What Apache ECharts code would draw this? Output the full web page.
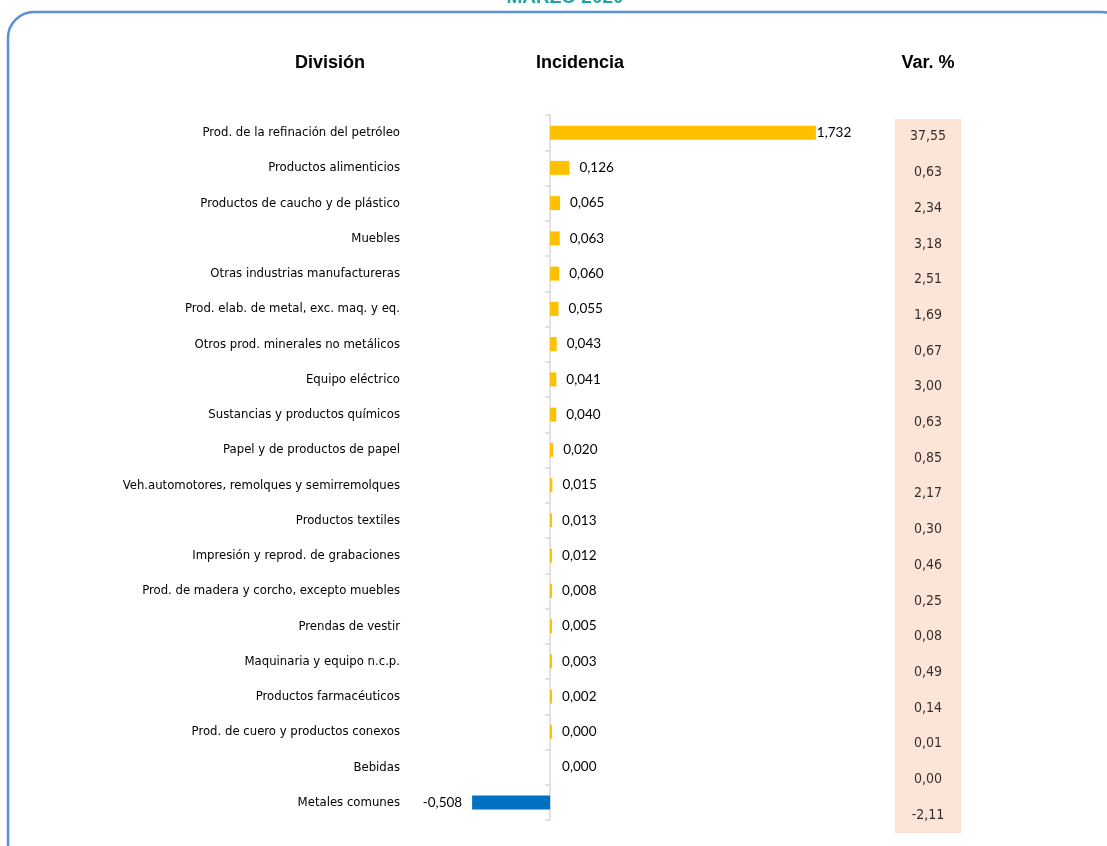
<!DOCTYPE html>
<html>
<head>
<meta charset="utf-8">
<script src="https://cdn.jsdelivr.net/npm/echarts@6/dist/echarts.min.js"></script>
<style>
  html, body { margin: 0; padding: 0; background: #fff; }
  #chart { width: 1107px; height: 846px; }
</style>
</head>
<body>
<div id="chart"></div>
<script>
// divisiones, de arriba hacia abajo
var divisiones = [
    'Prod. de la refinación del petróleo',
    'Productos alimenticios',
    'Productos de caucho y de plástico',
    'Muebles',
    'Otras industrias manufactureras',
    'Prod. elab. de metal, exc. maq. y eq.',
    'Otros prod. minerales no metálicos',
    'Equipo eléctrico',
    'Sustancias y productos químicos',
    'Papel y de productos de papel',
    'Veh.automotores, remolques y semirremolques',
    'Productos textiles',
    'Impresión y reprod. de grabaciones',
    'Prod. de madera y corcho, excepto muebles',
    'Prendas de vestir',
    'Maquinaria y equipo n.c.p.',
    'Productos farmacéuticos',
    'Prod. de cuero y productos conexos',
    'Bebidas',
    'Metales comunes'
];
var incidencia = [1.732, 0.126, 0.065, 0.063, 0.060, 0.055, 0.043, 0.041, 0.040, 0.020,
                  0.015, 0.013, 0.012, 0.008, 0.005, 0.003, 0.002, 0.0004, 0.000, -0.508];
var varPct = [37.55, 0.63, 2.34, 3.18, 2.51, 1.69, 0.67, 3.00, 0.63, 0.85,
              2.17, 0.30, 0.46, 0.25, 0.08, 0.49, 0.14, 0.01, 0.00, -2.11];

function coma(v, d) {
    return v.toFixed(d).replace('.', ',');
}

var myChart = echarts.init(document.getElementById('chart'));

var narrow = "'Liberation Sans Narrow', 'Arial Narrow', 'DejaVu Sans Condensed', sans-serif";
var header = "'Liberation Sans', Arial, sans-serif";

var option = {
    animation: false,
    backgroundColor: '#fff',
    graphic: [
        {
            type: 'rect',
            shape: { x: 8, y: 12, width: 1120, height: 870, r: 26 },
            style: { fill: 'none', stroke: '#5B8FD9', lineWidth: 2.5 }
        },
        {
            type: 'text', x: 565, y: -2,
            style: { text: 'MARZO 2020', fill: '#1FA3A3', font: 'bold 19px ' + header,
                     textAlign: 'center', textVerticalAlign: 'middle' }
        },
        {
            type: 'text', x: 330, y: 63,
            style: { text: 'División', fill: '#000', font: 'bold 18px ' + header,
                     textAlign: 'center', textVerticalAlign: 'middle' }
        },
        {
            type: 'text', x: 580, y: 63,
            style: { text: 'Incidencia', fill: '#000', font: 'bold 18px ' + header,
                     textAlign: 'center', textVerticalAlign: 'middle' }
        },
        {
            type: 'text', x: 928, y: 63,
            style: { text: 'Var. %', fill: '#000', font: 'bold 18px ' + header,
                     textAlign: 'center', textVerticalAlign: 'middle' }
        }
    ],
    grid: [
        { left: 458, width: 399, top: 115, height: 705 },
        { left: 895, width: 66, top: 119, height: 714, show: true,
          backgroundColor: '#FCE4D6', borderWidth: 0 }
    ],
    xAxis: [
        { type: 'value', gridIndex: 0, min: -0.6, max: 2.0, show: false },
        { type: 'value', gridIndex: 1, min: -1, max: 1, show: false }
    ],
    yAxis: [
        {
            type: 'category', gridIndex: 0, inverse: true, data: divisiones,
            axisLine: { show: true, onZero: true, lineStyle: { color: '#D9D9D9', width: 1.5 } },
            axisTick: { show: true, length: 5, lineStyle: { color: '#D9D9D9', width: 1.5 } },
            axisLabel: { margin: 58, color: '#000', fontSize: 13, fontFamily: narrow }
        },
        {
            type: 'category', gridIndex: 1, inverse: true, data: divisiones, show: false
        }
    ],
    series: [
        {
            type: 'bar',
            xAxisIndex: 0, yAxisIndex: 0,
            barWidth: 14,
            barMinHeight: 2,
            data: incidencia.map(function (v, i) {
                return {
                    value: v,
                    itemStyle: { color: v < 0 ? '#0070C0' : (v === 0 ? 'rgba(0,0,0,0)' : '#FFC000') },
                    label: {
                        position: v < 0 ? 'left' : 'right',
                        distance: i === 0 ? 1 : 10
                    }
                };
            }),
            label: {
                show: true,
                color: '#000',
                fontSize: 13.5,
                fontFamily: "Lato, 'Open Sans', sans-serif",
                formatter: function (p) { return coma(p.value, 3); }
            }
        },
        {
            type: 'scatter',
            xAxisIndex: 1, yAxisIndex: 1,
            symbolSize: 0,
            data: varPct.map(function (v, i) { return [0, i]; }),
            label: {
                show: true,
                position: 'inside',
                color: '#000',
                fontSize: 14,
                fontFamily: narrow,
                formatter: function (p) { return coma(varPct[p.dataIndex], 2); }
            }
        }
    ]
};
myChart.setOption(option);
</script>
</body>
</html>
